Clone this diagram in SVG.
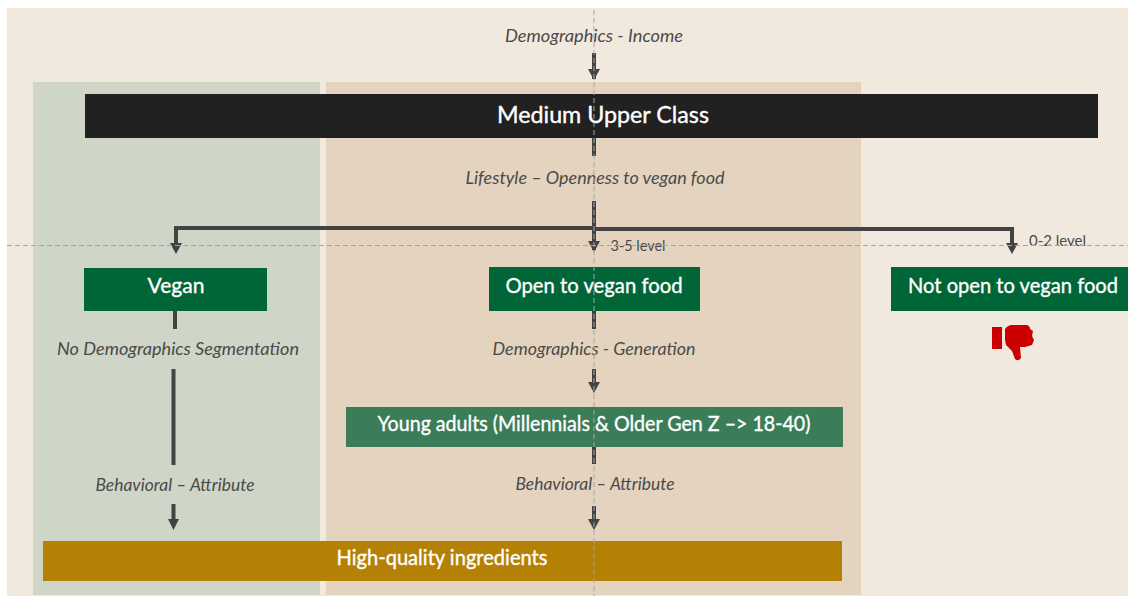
<svg xmlns="http://www.w3.org/2000/svg" width="1128" height="596" viewBox="0 0 1128 596">
<style>
.lab{font-family:"Lato","Noto Sans",sans-serif;font-style:italic;font-size:17.5px;fill:#4a4a4a;text-anchor:middle}
.lev{font-family:"Lato","Noto Sans",sans-serif;font-size:15px;fill:#4a4a4a;text-anchor:middle}
.t{font-family:"Lato","Noto Sans",sans-serif;font-size:21px;fill:#fff;stroke:#fff;stroke-width:.35;text-anchor:middle}
.c{fill:none;stroke:#434343;stroke-width:4}
.h{fill:#434343}
.g{fill:none;stroke:#a5a5a5;stroke-width:1;stroke-dasharray:5 3}
</style>
<rect width="1128" height="596" fill="#fff"/>
<rect x="7" y="8" width="1121" height="588" fill="#f2e9de"/>
<rect x="33" y="82" width="287" height="513" fill="#cfd5c7"/>
<rect x="326" y="82" width="535" height="513" fill="#e4d4bf"/>

<g id="connectors">
<path class="c" d="M594 53V79"/>
<path class="h" d="M588 69H600L594 80Z"/>
<path class="c" d="M594 138V156"/>
<path class="c" d="M594 201V250"/>
<path class="h" d="M588 241H600L594 252Z"/>
<path class="c" d="M176 250V228H594"/>
<path class="h" d="M170 243H182L176 254Z"/>
<path class="c" d="M594 229H1012V250"/>
<path class="h" d="M1006 243H1018L1012 254Z"/>
<path class="c" d="M175 310V329"/>
<path class="c" d="M173.500 369V465"/>
<path class="c" d="M173.500 504V522"/>
<path class="h" d="M168 519H179L173.500 530Z"/>
<path class="c" d="M594 310V329"/>
<path class="c" d="M594 369V386"/>
<path class="h" d="M588 382H600L594 393Z"/>
<path class="c" d="M594 447V464"/>
<path class="c" d="M594 506V522"/>
<path class="h" d="M588 519H600L594 530Z"/>
</g>

<g id="medium-upper-class"><rect x="85" y="94" width="1013" height="44" fill="#212121"/><text class="t" x="603" y="122.500" style="font-size:23px" textLength="212" lengthAdjust="spacingAndGlyphs">Medium Upper Class</text></g>
<g id="vegan"><rect x="84" y="268" width="183" height="43" fill="#006537"/><text class="t" x="176" y="292.500" textLength="57" lengthAdjust="spacingAndGlyphs">Vegan</text></g>
<g id="open"><rect x="489" y="267" width="211" height="44" fill="#006537"/><text class="t" x="594" y="292.500" textLength="177" lengthAdjust="spacingAndGlyphs">Open to vegan food</text></g>
<g id="not-open"><rect x="891" y="267" width="237" height="44" fill="#006537"/><text class="t" x="1013" y="292.500" textLength="210" lengthAdjust="spacingAndGlyphs">Not open to vegan food</text></g>
<g id="young-adults"><rect x="346" y="407" width="497" height="40" fill="#3c7d59"/><text class="t" x="594" y="430.500" textLength="433" lengthAdjust="spacingAndGlyphs">Young adults (Millennials &amp; Older Gen Z –&gt; 18-40)</text></g>
<g id="high-quality"><rect x="43" y="541" width="799" height="40" fill="#b58105"/><text class="t" x="442" y="564.500" textLength="211" lengthAdjust="spacingAndGlyphs">High-quality ingredients</text></g>

<g id="thumbs-down" fill="#cc0000">
<rect x="992" y="327" width="10" height="22"/>
<path d="M1005 329Q1008 325 1012 325H1027Q1030 326 1030 329L1033 331L1032 336L1034 340L1032 345L1025 347L1020 347L1021 358Q1018 362 1015 359L1012 351L1006 345L1005 340Z"/>
</g>

<g id="labels">
<text class="lab" x="594" y="41.500" textLength="178" lengthAdjust="spacingAndGlyphs">Demographics - Income</text>
<text class="lab" x="595" y="183.500" textLength="259" lengthAdjust="spacingAndGlyphs">Lifestyle – Openness to vegan food</text>
<text class="lab" x="178" y="354.500" textLength="242" lengthAdjust="spacingAndGlyphs">No Demographics Segmentation</text>
<text class="lab" x="594" y="354.500" textLength="203" lengthAdjust="spacingAndGlyphs">Demographics - Generation</text>
<text class="lab" x="175" y="491" textLength="159" lengthAdjust="spacingAndGlyphs">Behavioral – Attribute</text>
<text class="lab" x="595" y="489.500" textLength="159" lengthAdjust="spacingAndGlyphs">Behavioral – Attribute</text>
<text class="lev" x="638" y="250.500" textLength="55" lengthAdjust="spacingAndGlyphs">3-5 level</text>
<text class="lev" x="1057.500" y="245.500" textLength="57" lengthAdjust="spacingAndGlyphs">0-2 level</text>
</g>
<g id="guides">
<path class="g" d="M594 10V596"/>
<path class="g" d="M7 245.500H1128"/>
</g>
</svg>
